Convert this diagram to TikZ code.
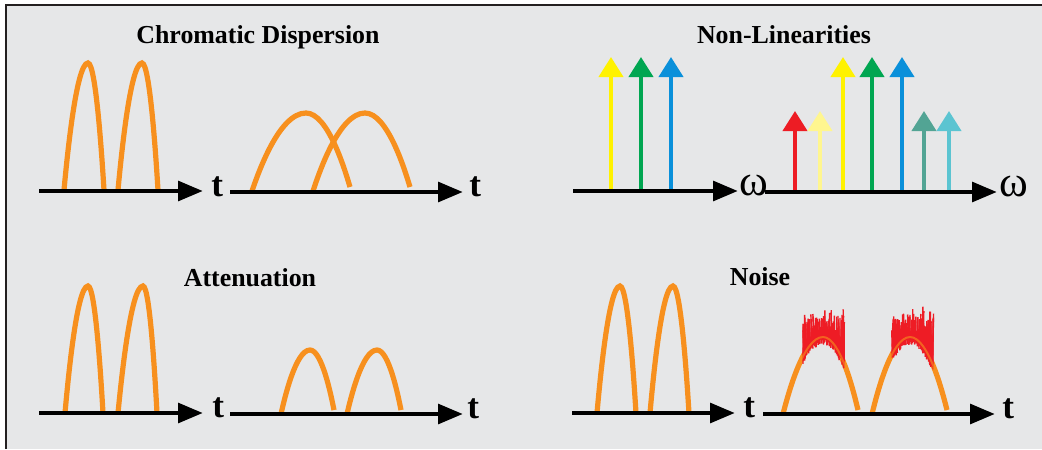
\documentclass[tikz,border=0pt]{standalone}
\usepackage{fontspec}
\setmainfont{Liberation Serif}
\usetikzlibrary{arrows.meta}
\definecolor{panelgray}{HTML}{E6E7E8}
\definecolor{framegray}{HTML}{231F20}
\definecolor{pulseorange}{HTML}{F7901E}
\definecolor{noisered}{HTML}{EE1C25}
\definecolor{toneyellow}{HTML}{FFF200}
\definecolor{tonegreen}{HTML}{00A651}
\definecolor{toneblue}{HTML}{0A90DA}
\definecolor{tonered}{HTML}{ED1C24}
\definecolor{tonepale}{HTML}{FFF68F}
\definecolor{toneteal}{HTML}{52A494}
\definecolor{tonecyan}{HTML}{5BC4D1}
\begin{document}
\begin{tikzpicture}[x=0.025cm, y=-0.025cm,
  axis/.style={line width=0.12cm, -{Triangle[length=0.62cm, width=0.48cm]}},
  pulse/.style={draw=pulseorange, line width=0.13cm},
  tone/.style={line width=0.1cm, -{Triangle[length=0.5cm, width=0.6cm]}},
  title/.style={font=\fontsize{18.4}{22}\selectfont\bfseries, anchor=base, inner sep=0pt},
  axislabel/.style={font=\fontsize{25}{30}\selectfont\bfseries, anchor=base west, inner sep=0pt},
  omegalabel/.style={font=\fontsize{31}{34}\selectfont, anchor=base west, inner sep=0pt}
]
\useasboundingbox (0,0) rectangle (1042,449);
\fill[panelgray] (6,4.5) rectangle (1042,449);
\draw[framegray, line width=0.05cm] (6,449) -- (6,4.5) -- (1042,4.5);

% titles
\node[title] (cdtitle) at (258,43) {Chromatic Dispersion};
\node[title] (nltitle) at (784,43) {Non-Linearities};
\node[title] (attitle) at (250,286) {Attenuation};
\node[title] (nstitle) at (760,285) {Noise};

% chromatic dispersion
\draw[pulse] (64,190) parabola bend (88,63) (104,190);
\draw[pulse] (118,190) parabola bend (142,63) (158,190);
\draw[pulse] (252,191) parabola bend (306,113) (350,187);
\draw[pulse] (313,191) parabola bend (365,113) (410,187);
\draw[axis] (39,191) -- (203,191);
\draw[axis] (230,192) -- (463,192);
\node[axislabel] (cdt1) at (211,196) {t};
\node[axislabel] (cdt2) at (469,196) {t};

% non-linearities
\foreach \x/\col/\tip in {611/toneyellow/57, 641/tonegreen/57, 671/toneblue/57}
  \draw[tone, \col] (\x,191) -- (\x,\tip);
\foreach \x/\col/\tip in {795/tonered/111, 820/tonepale/111, 843/toneyellow/57,
  872/tonegreen/57, 902/toneblue/57, 924/toneteal/111, 949/tonecyan/111}
  \draw[tone, \col] (\x,192) -- (\x,\tip);
\draw[axis] (573,191) -- (738,191);
\draw[axis] (765,192) -- (997,192);
\node[omegalabel] (nlw1) at (739,195) {ω};
\node[omegalabel] (nlw2) at (999,196) {ω};

% attenuation
\draw[pulse] (65,413) parabola bend (88,286) (103,413);
\draw[pulse] (118,413) parabola bend (143,286) (157,413);
\draw[pulse] (281,414) parabola bend (310,350) (334,410);
\draw[pulse] (347,414) parabola bend (377,350) (401,410);
\draw[axis] (39,413) -- (203,413);
\draw[axis] (230,414) -- (463,414);
\node[axislabel] (att1) at (212,417) {t};
\node[axislabel] (att2) at (467,418) {t};

% noise
\draw[pulse] (597,413) parabola bend (620,286) (636,413);
\draw[pulse] (650,413) parabola bend (673,286) (689,413);
\draw[pulse] (783,414) parabola bend (823,337) (858,410);
\draw[pulse] (872,414) parabola bend (910,337) (947,410);
\pgfmathsetseed{11}
\foreach \c/\l/\r/\wl/\wr in {823/803/844/40/35, 910/892/933/38/37} {
  \foreach \i in {0,...,100} {
    \pgfmathsetmacro\xx{\l+\i*(\r-\l)/100}
    \pgfmathsetmacro\uu{(\xx-\c)/\wl}
    \pgfmathsetmacro\vv{(\xx-\c)/\wr}
    \pgfmathsetmacro\yc{ifthenelse(\xx<\c, 337+77*\uu*\uu, 337+73*\vv*\vv)}
    \pgfmathsetmacro\rr{rnd}
    \pgfmathsetmacro\yb{\yc+1+7*rnd}
    \pgfmathsetmacro\yt{min(\yc-3, 333-14*rnd-14*\rr*\rr*\rr)}
    \pgfmathsetmacro\dx{2.5*rnd-1.25}
    \draw[noisered, line width=0.035cm] (\xx,\yb) -- (\xx+\dx,\yt);
  }
}
\draw[draw=pulseorange, line width=0.05cm, opacity=0.6] (783,414) parabola bend (823,337) (858,410);
\draw[draw=pulseorange, line width=0.05cm, opacity=0.6] (872,414) parabola bend (910,337) (947,410);
\draw[axis] (572,413) -- (735,413);
\draw[axis] (763,414) -- (995,414);
\node[axislabel] (nst1) at (743,417) {t};
\node[axislabel] (nst2) at (1002,418) {t};
\end{tikzpicture}
\end{document}
